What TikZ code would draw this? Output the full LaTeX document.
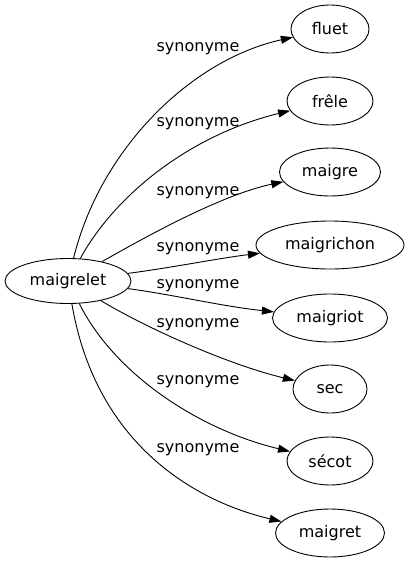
\documentclass[tikz,border=0pt]{standalone}
\usepackage{fontspec}
\setmainfont{DejaVu Sans}
\usetikzlibrary{shapes.geometric,arrows.meta}

\begin{document}
\begin{tikzpicture}[x=1pt,y=-1pt,line width=0.9pt,
  mot/.style={ellipse,draw,inner sep=0pt,minimum height=48pt,font=\fontsize{16}{19}\selectfont},
  lien/.style={-{Triangle[length=12pt,width=8pt]}},
  etiq/.style={font=\fontsize{16}{19}\selectfont}]

\useasboundingbox (0,0) rectangle (409,563);

% le mot
\node[mot,minimum width=126pt,minimum height=45pt] (maigrelet) at (68,281) {maigrelet};

% les synonymes
\node[mot,minimum width=78pt] (fluet) at (330,29) {fluet};
\node[mot,minimum width=86pt] (frele) at (330,101) {frêle};
\node[mot,minimum width=101pt] (maigre) at (330,172) {maigre};
\node[mot,minimum width=148pt] (maigrichon) at (330,245) {maigrichon};
\node[mot,minimum width=115pt] (maigriot) at (330,318) {maigriot};
\node[mot,minimum width=74pt] (sec) at (330,389) {sec};
\node[mot,minimum width=86pt] (secot) at (330,461) {sécot};
\node[mot,minimum width=109pt] (maigret) at (330,533) {maigret};

% les liens
\draw[lien] (maigrelet) .. controls (100,150) and (190,60) .. (fluet);
\draw[lien] (maigrelet) .. controls (115,195) and (190,135) .. (frele);
\draw[lien] (maigrelet) .. controls (140,240) and (220,195) .. (maigre);
\draw[lien] (maigrelet) .. controls (170,268) and (220,258) .. (maigrichon);
\draw[lien] (maigrelet) .. controls (170,294) and (220,306) .. (maigriot);
\draw[lien] (maigrelet) .. controls (150,330) and (230,365) .. (sec);
\draw[lien] (maigrelet) .. controls (115,375) and (200,430) .. (secot);
\draw[lien] (maigrelet) .. controls (95,440) and (190,500) .. (maigret);

% les etiquettes
\node[etiq] (e1) at (198,49) {synonyme};
\node[etiq] (e2) at (198,124) {synonyme};
\node[etiq] (e3) at (198,193) {synonyme};
\node[etiq] (e4) at (198,249) {synonyme};
\node[etiq] (e5) at (198,286) {synonyme};
\node[etiq] (e6) at (198,325) {synonyme};
\node[etiq] (e7) at (198,382) {synonyme};
\node[etiq] (e8) at (198,450) {synonyme};
\end{tikzpicture}
\end{document}
